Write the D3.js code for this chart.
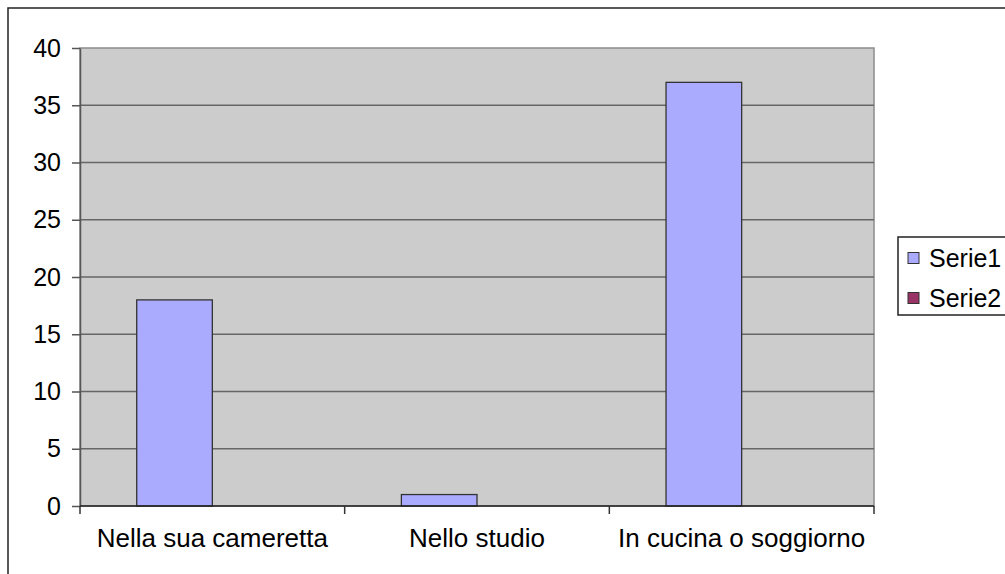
<!DOCTYPE html>
<html><head><meta charset="utf-8">
<script src="https://cdn.jsdelivr.net/npm/d3@7"></script>
<style>html,body{margin:0;padding:0;background:#fff;overflow:hidden}</style>
</head><body>
<svg id="c" width="1005" height="574"></svg>
<script>
const categories = ["Nella sua cameretta", "Nello studio", "In cucina o soggiorno"];
const serie1 = [18, 1, 37];
const serie2 = [0, 0, 0];
const seriesNames = ["Serie1", "Serie2"];
const seriesColors = ["#aaaaff", "#993366"];
const yTicks = [0, 5, 10, 15, 20, 25, 30, 35, 40];

const svg = d3.select("#c");
const font = "Liberation Sans, Arial, sans-serif";
const L = 80, R = 874, T = 48, B = 506;

// outer border (left and top only visible)
svg.append("path").attr("d", "M8,574 L8,8 L1005,8").attr("fill", "none").attr("stroke", "#222").attr("stroke-width", 1.5);

const x0 = d3.scaleBand().domain(categories).range([L, R]).paddingInner(0).paddingOuter(0);
const x1 = d3.scaleBand().domain(seriesNames).range([0, x0.bandwidth()]).paddingInner(0).paddingOuter(0.75);
const y = d3.scaleLinear().domain([0, 40]).range([B, T]);

svg.append("rect").attr("x", L).attr("y", T).attr("width", R - L).attr("height", B - T)
  .attr("fill", "#cccccc").attr("stroke", "#8c8c8c").attr("stroke-width", 1.5);

// gridlines
svg.append("g").selectAll("line").data(yTicks.filter(d => d > 0 && d < 40)).join("line")
  .attr("x1", L).attr("x2", R).attr("y1", d => y(d)).attr("y2", d => y(d))
  .attr("stroke", "#666").attr("stroke-width", 1.5);

// bars
const data = [serie1, serie2];
categories.forEach((c, i) => {
  seriesNames.forEach((s, j) => {
    const v = data[j][i];
    if (v > 0) {
      svg.append("rect").attr("x", x0(c) + x1(s)).attr("y", y(v))
        .attr("width", x1.bandwidth()).attr("height", y(0) - y(v))
        .attr("fill", seriesColors[j]).attr("stroke", "#333").attr("stroke-width", 1.3);
    }
  });
});

// y axis
const yAxis = d3.axisLeft(y).tickValues(yTicks).tickSize(8).tickPadding(11).tickSizeOuter(0);
const gy = svg.append("g").attr("transform", `translate(${L},0)`).call(yAxis);
gy.select(".domain").attr("stroke", "#555").attr("stroke-width", 1.5);
gy.selectAll(".tick line").attr("stroke", "#555").attr("stroke-width", 1.5);
gy.selectAll("text").attr("font-family", font).attr("font-size", 25).attr("fill", "#000");

// x axis
const gx = svg.append("g").attr("transform", `translate(0,${B})`);
gx.append("line").attr("x1", L).attr("x2", R).attr("stroke", "#222").attr("stroke-width", 1.5);
const bounds = categories.map(c => x0(c)).concat([R]);
gx.selectAll("line.tk").data(bounds).join("line").attr("class", "tk")
  .attr("x1", d => d).attr("x2", d => d).attr("y1", 0).attr("y2", 8)
  .attr("stroke", "#333").attr("stroke-width", 1.5);
gx.selectAll("text").data(categories).join("text")
  .attr("x", d => x0(d) + x0.bandwidth() / 2).attr("y", 41)
  .attr("text-anchor", "middle").attr("font-family", font).attr("font-size", 26).attr("fill", "#000")
  .text(d => d);

// legend
const lg = svg.append("g");
lg.append("rect").attr("x", 898).attr("y", 237).attr("width", 130).attr("height", 78)
  .attr("fill", "#fff").attr("stroke", "#222").attr("stroke-width", 1.5);
seriesNames.forEach((s, j) => {
  const cy = 258 + j * 40;
  lg.append("rect").attr("x", 908).attr("y", cy - 5.5).attr("width", 11).attr("height", 11)
    .attr("fill", seriesColors[j]).attr("stroke", "#333").attr("stroke-width", 1);
  lg.append("text").attr("x", 929).attr("y", cy + 8.5).attr("font-family", font).attr("font-size", 25)
    .attr("fill", "#000").text(s);
});
</script>
</body></html>
